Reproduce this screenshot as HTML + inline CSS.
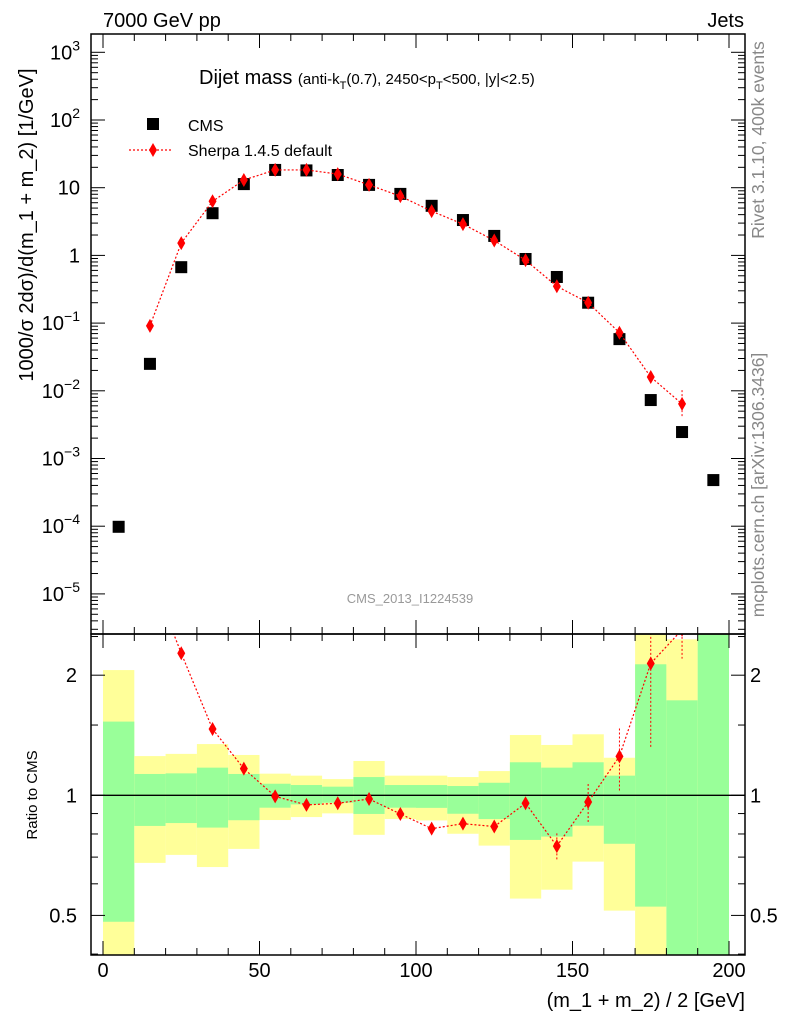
<!DOCTYPE html>
<html><head><meta charset="utf-8">
<style>
body{margin:0;background:#fff;}
svg{display:block;font-family:"Liberation Sans",sans-serif;}
</style></head>
<body>
<svg id="chart" width="786" height="1024" viewBox="0 0 786 1024" xmlns="http://www.w3.org/2000/svg">
<defs>
<clipPath id="clipMain"><rect x="91" y="34" width="654" height="600"/></clipPath>
<clipPath id="clipRatio"><rect x="91" y="634" width="654" height="321"/></clipPath>
</defs>
<g id="bands"></g>
<g id="main"></g>
<g id="ratio"></g>
<g id="axes"></g>
<text x="103" y="27" font-size="20">7000 GeV pp</text>
<text x="744" y="27" font-size="20" text-anchor="end">Jets</text>
<text x="199" y="84" font-size="20">Dijet mass <tspan font-size="15">(anti-k</tspan><tspan font-size="11" dy="5">T</tspan><tspan font-size="15" dy="-5">(0.7), 2450&lt;p</tspan><tspan font-size="11" dy="5">T</tspan><tspan font-size="15" dy="-5">&lt;500, |y|&lt;2.5)</tspan></text>
<g>
<rect x="147" y="118" width="12" height="12" fill="#000"/>
<text x="188" y="131" font-size="16">CMS</text>
<line x1="129" y1="150" x2="172" y2="150" stroke="red" stroke-width="1.2" stroke-dasharray="2,2"/>
<path d="M153,143 L157,150 L153,157 L149,150 Z" fill="red"/>
<text x="188" y="156" font-size="16">Sherpa 1.4.5 default</text>
</g>
<text x="410" y="603" font-size="13" fill="#999" text-anchor="middle">CMS_2013_I1224539</text>
<text transform="translate(764,140) rotate(-90)" font-size="17.5" fill="#888" text-anchor="middle">Rivet 3.1.10,  400k events</text>
<text transform="translate(764,485) rotate(-90)" font-size="17.5" fill="#888" text-anchor="middle">mcplots.cern.ch [arXiv:1306.3436]</text>
<text transform="translate(33,225) rotate(-90)" font-size="20" text-anchor="middle">1000/σ 2dσ)/d(m_1 + m_2) [1/GeV]</text>
<text transform="translate(37,795) rotate(-90)" font-size="15" text-anchor="middle">Ratio to CMS</text>
<text x="745" y="1007" font-size="20" text-anchor="end">(m_1 + m_2) / 2 [GeV]</text>
</svg>
<script>
const binCenters=[5,15,25,35,45,55,65,75,85,95,105,115,125,135,145,155,165,175,185,195];
const cmsValues=[9.8e-5,0.025,0.67,4.2,11.3,18.3,18,15.4,11,8.1,5.4,3.33,1.94,0.885,0.48,0.2,0.058,0.0073,0.00246,0.00048];
const sherpaX=[15,25,35,45,55,65,75,85,95,105,115,125,135,145,155,165,175,185];
const sherpaValues=[0.091,1.52,6.3,13,18.3,18.3,15.9,11,7.5,4.5,2.9,1.66,0.85,0.35,0.2,0.072,0.016,0.0064];
const ratioValues=[3.6,2.27,1.466,1.166,0.994,0.946,0.955,0.979,0.898,0.825,0.849,0.835,0.955,0.746,0.962,1.252,2.14,2.6];
const ratioErrLo=[3.6,2.22,1.44,1.15,0.99,0.94,0.95,0.97,0.89,0.82,0.84,0.82,0.93,0.689,0.856,1.027,1.32,2.2];
const ratioErrHi=[3.6,2.33,1.49,1.18,1.0,0.955,0.96,0.99,0.905,0.83,0.86,0.85,0.98,0.803,1.067,1.47,3,3];
const binEdges=[0,10,20,30,40,50,60,70,80,90,100,110,120,130,140,150,160,170,180,190,200];
const greenHi=[1.53,1.131,1.135,1.173,1.131,1.069,1.061,1.051,1.111,1.061,1.061,1.055,1.075,1.21,1.173,1.21,1.12,2.13,1.73,3];
const greenLo=[0.482,0.838,0.852,0.83,0.866,0.931,0.949,0.958,0.898,0.931,0.93,0.899,0.872,0.773,0.788,0.839,0.756,0.526,0.3,0.3];
const yellowHi=[2.06,1.254,1.27,1.344,1.262,1.133,1.12,1.098,1.219,1.12,1.12,1.111,1.15,1.416,1.337,1.422,1.242,3,2.46,3];
const yellowLo=[0.3,0.677,0.709,0.661,0.734,0.867,0.882,0.901,0.796,0.872,0.865,0.801,0.748,0.551,0.58,0.682,0.514,0.3,0.3,0.3];
const xTicks=[0,50,100,150,200];
const yDecades=[-5,-4,-3,-2,-1,0,1,2,3];
const yTickLabels=["10","10","10","10","10","1","10","10","10"];
const ySup=["−5","−4","−3","−2","−1","","","2","3"];
const ratioTicks=[0.5,1,2];

const NS="http://www.w3.org/2000/svg";
const L=91,R=745,T=34,MB=634,RB=955;
const X=v=>103+v*3.13;
const Y=v=>255.4-67.7*Math.log10(v);
const RY=v=>795.3-399*Math.log10(v);
function mk(tag,parent,attrs){const e=document.createElementNS(NS,tag);for(const k in attrs)e.setAttribute(k,attrs[k]);parent.appendChild(e);return e;}

const bands=document.getElementById('bands');bands.setAttribute('clip-path','url(#clipRatio)');
for(let i=0;i<binCenters.length;i++){
  const x0=X(binEdges[i]),x1=X(binEdges[i+1]);
  const y=mk('rect',bands,{x:x0,y:RY(yellowHi[i]),width:x1-x0,height:RY(yellowLo[i])-RY(yellowHi[i]),fill:'#ffff99'});
  
  
  const g=mk('rect',bands,{x:x0,y:RY(greenHi[i]),width:x1-x0,height:RY(greenLo[i])-RY(greenHi[i]),fill:'#99ff99'});
  
  
}
const rl=mk('line',bands,{x1:L,x2:R,y1:RY(1),y2:RY(1),stroke:'#000','stroke-width':1.3});



const main=document.getElementById('main');main.setAttribute('clip-path','url(#clipMain)');
for(let i=0;i<binCenters.length;i++){
  const r=mk('rect',main,{x:X(binCenters[i])-6,y:Y(cmsValues[i])-6,width:12,height:12,fill:'#000'});
  
  
}
const sp=mk('polyline',main,{points:sherpaX.map((x,i)=>X(x)+','+Y(sherpaValues[i])).join(' '),fill:'none',stroke:'red','stroke-width':1.2,'stroke-dasharray':'2,2'});


const lastI=sherpaX.length-1;
const eb=mk('line',main,{x1:X(sherpaX[lastI]),x2:X(sherpaX[lastI]),y1:Y(sherpaValues[lastI]*1.6),y2:Y(sherpaValues[lastI]*0.62),stroke:'red','stroke-dasharray':'2,2'});


for(let i=0;i<sherpaX.length;i++){
  const cx=X(sherpaX[i]),cy=Y(sherpaValues[i]);
  const d=mk('path',main,{d:`M${cx},${cy-7}L${cx+4},${cy}L${cx},${cy+7}L${cx-4},${cy}Z`,fill:'red'});
  
  
}

const ratio=document.getElementById('ratio');ratio.setAttribute('clip-path','url(#clipRatio)');
const rp=mk('polyline',ratio,{points:sherpaX.map((x,i)=>X(x)+','+RY(ratioValues[i])).join(' '),fill:'none',stroke:'red','stroke-width':1.2,'stroke-dasharray':'2,2'});


for(let i=0;i<sherpaX.length;i++){
  const cx=X(sherpaX[i]),cy=RY(ratioValues[i]);
  const e=mk('line',ratio,{x1:cx,x2:cx,y1:RY(ratioErrHi[i]),y2:RY(ratioErrLo[i]),stroke:'red','stroke-dasharray':'2,2'});
  
  
  const d=mk('path',ratio,{d:`M${cx},${cy-7}L${cx+4},${cy}L${cx},${cy+7}L${cx-4},${cy}Z`,fill:'red'});
  
  
}

const ax=document.getElementById('axes');
const f1=mk('rect',ax,{x:L,y:T,width:R-L,height:MB-T,fill:'none',stroke:'#000','stroke-width':1.5});


const f2=mk('rect',ax,{x:L,y:MB,width:R-L,height:RB-MB,fill:'none',stroke:'#000','stroke-width':1.5});


function tk(x1,y1,x2,y2){mk('line',ax,{x1,y1,x2,y2,stroke:'#000','stroke-width':1});}
for(let v=0;v<=200;v+=10){
  const x=X(v),len=(v%50===0)?14:7;
  tk(x,T,x,T+len);tk(x,MB,x,MB-len);tk(x,MB,x,MB+len);tk(x,RB,x,RB-len);
}
xTicks.forEach(v=>{const t=mk('text',ax,{x:X(v),y:977,'font-size':20,'text-anchor':'middle'});t.textContent=v;
  
  });
for(let d=-6;d<=3;d++){
  for(let m=1;m<10;m++){
    const y=Y(m*Math.pow(10,d));if(y<T||y>MB)continue;
    const len=m===1?14:7;tk(L,y,L+len,y);tk(R,y,R-len,y);
  }
}
yDecades.forEach((d,i)=>{
  const t=mk('text',ax,{x:80,y:Y(Math.pow(10,d))+7,'font-size':20,'text-anchor':'end'});
  t.textContent=yTickLabels[i];
  
  
  if(ySup[i]!==''){const s=mk('tspan',t,{dy:-9,'font-size':14});s.textContent=ySup[i];}
});
[0.4,0.5,0.6,0.7,0.8,0.9,1,1.5,2,2.5].forEach(v=>{const y=RY(v);if(y<MB||y>RB)return;const len=(v===0.5||v===1||v===2)?14:7;tk(L,y,L+len,y);tk(R,y,R-len,y);});
ratioTicks.forEach(v=>{
  const t=mk('text',ax,{x:77,y:RY(v)+7,'font-size':20,'text-anchor':'end'});t.textContent=v;
  
  
  const t2=mk('text',ax,{x:750,y:RY(v)+7,'font-size':20});t2.textContent=v;
  
  
});
</script>
</body></html>
